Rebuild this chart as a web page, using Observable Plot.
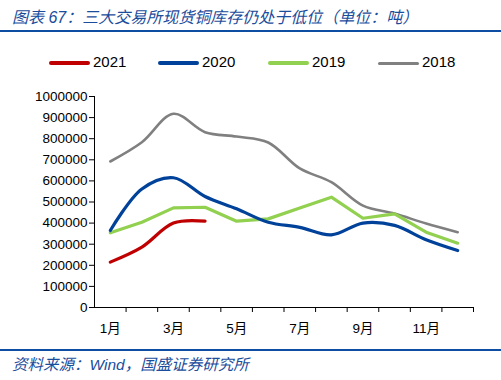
<!DOCTYPE html>
<html><head><meta charset="utf-8">
<script src="https://cdn.jsdelivr.net/npm/d3@7"></script>
<script src="https://cdn.jsdelivr.net/npm/@observablehq/plot@0.6"></script>
<style>
body{margin:0;width:501px;height:380px;position:relative;background:#fff;overflow:hidden;font-family:"Liberation Sans","Noto Sans CJK SC",sans-serif;}
#title{position:absolute;left:12px;top:4px;font-size:16px;font-style:italic;color:#1a4d9c;font-family:"Liberation Sans","Noto Sans CJK SC",sans-serif;white-space:nowrap;}
.rule{position:absolute;left:0;width:501px;height:2px;background:#0d4ea2;}
#legend{position:absolute;top:52px;left:0;width:501px;height:22px;}
.li{position:absolute;top:0;font-size:15px;color:#000;line-height:20px;}
.sw{position:absolute;top:9px;width:41px;height:4px;border-radius:2px;}
#chart{position:absolute;left:0;top:80px;}
#caption{position:absolute;left:12px;top:352px;font-size:15.5px;font-style:italic;color:#1a4d9c;white-space:nowrap;}
</style></head>
<body>
<div id="title">图表 67：三大交易所现货铜库存仍处于低位（单位：吨）</div>
<div class="rule" style="top:30px"></div>
<div id="legend"></div>
<div id="chart"></div>
<div class="rule" style="top:349px"></div>
<div id="caption">资料来源：Wind，国盛证券研究所</div>
<script>
const months = [1,2,3,4,5,6,7,8,9,10,11,12];
const monthLabels = ["1月","3月","5月","7月","9月","11月"];
const monthLabelPos = [1,3,5,7,9,11];
const series = ["2021","2020","2019","2018"];
const colors = ["#c00000","#00419a","#92d050","#808080"];
const v2021 = [215000,286000,400000,409000];
const v2020 = [365000,562000,615000,526000,468000,404000,380000,344000,400000,389000,321000,270000];
const v2019 = [354000,404000,472000,475000,409000,420000,472000,523000,423000,444000,357000,305000];
const v2018 = [692000,783000,918000,831000,810000,782000,659000,594000,483000,445000,398000,357000];
const yTicks = d3.range(0,1000001,100000);
const xBounds = d3.range(1.5,13,1);

const legendPos = [49,158,268,378];
const leg = document.getElementById("legend");
series.forEach((s,i)=>{
  const sw=document.createElement("div");sw.className="sw";sw.style.left=legendPos[i]+"px";sw.style.background=colors[i];
  if(s==="2018"){sw.style.height="3px";sw.style.top="10px";}
  leg.appendChild(sw);
  const t=document.createElement("div");t.className="li";t.style.left=(legendPos[i]+44)+"px";t.textContent=s;leg.appendChild(t);
});

const toRows = (vals,s)=>vals.map((v,i)=>({m:months[i],v,s}));
const r2021=toRows(v2021,"2021"), r2020=toRows(v2020,"2020"), r2019=toRows(v2019,"2019"), r2018=toRows(v2018,"2018");

const chart = Plot.plot({
  width:501, height:260,
  marginLeft:94, marginRight:28, marginTop:16, marginBottom:33,
  style:{fontFamily:"'Liberation Sans','Noto Sans CJK SC',sans-serif",fontSize:"13px",color:"#000",background:"#fff"},
  x:{type:"linear",domain:[0.5,12.5], axis:null},
  y:{type:"linear",domain:[0,1000000], axis:null},
  marks:[
    Plot.ruleY([0],{stroke:"#000",strokeWidth:1}),
    Plot.ruleX([0.5],{stroke:"#000",strokeWidth:1}),
    Plot.ruleX(xBounds,{x:d=>d,y1:0,y2:0,insetBottom:-5,stroke:"#000"}),
    Plot.ruleY(yTicks,{y:d=>d,x1:0.5,x2:0.5,insetLeft:-5,stroke:"#000"}),
    Plot.text(yTicks,{x:()=>0.5,y:d=>d,text:d=>String(d),textAnchor:"end",dx:-7,fill:"#000",fontSize:13.5}),
    Plot.text(monthLabelPos,{x:d=>d,y:()=>0,text:(d,i)=>monthLabels[i],dy:21,fill:"#000",fontSize:13.5}),
    Plot.line(r2018,{x:"m",y:"v",stroke:colors[3],strokeWidth:2.6,curve:"catmull-rom"}),
    Plot.line(r2019,{x:"m",y:"v",stroke:colors[2],strokeWidth:3.2,curve:"linear"}),
    Plot.line(r2020,{x:"m",y:"v",stroke:colors[1],strokeWidth:3.2,curve:"catmull-rom"}),
    Plot.line(r2021,{x:"m",y:"v",stroke:colors[0],strokeWidth:3.2,curve:"catmull-rom"})
  ]
});
document.getElementById("chart").appendChild(chart);
</script>
</body></html>
